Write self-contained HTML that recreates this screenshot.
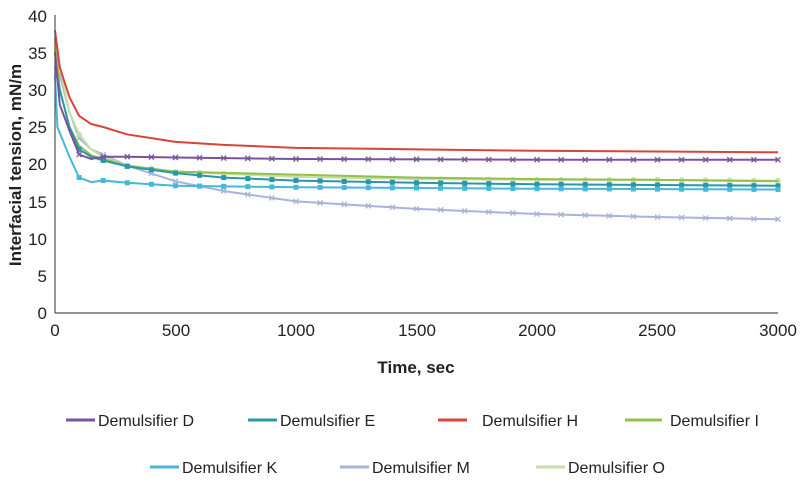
<!DOCTYPE html><html><head><style>body{margin:0;background:#fff}svg{display:block;font-family:"Liberation Sans",Arial,sans-serif}</style></head><body>
<svg id="s" width="800" height="491" viewBox="0 0 800 491">
<g id="c" fill="none" stroke-width="2"></g>
<g stroke="#555" stroke-width="1.2"><line x1="55" y1="15" x2="55" y2="313"/><line x1="55" y1="313" x2="778" y2="313"/></g>
<g font-size="17" fill="#222" text-anchor="end">
<text x="47" y="319">0</text><text x="47" y="282">5</text><text x="47" y="245">10</text><text x="47" y="208">15</text><text x="47" y="170">20</text><text x="47" y="133">25</text><text x="47" y="96">30</text><text x="47" y="59">35</text><text x="47" y="22">40</text></g>
<g font-size="17" fill="#222" text-anchor="middle">
<text x="55" y="336">0</text><text x="176" y="336">500</text><text x="296" y="336">1000</text><text x="417" y="336">1500</text><text x="537" y="336">2000</text><text x="657" y="336">2500</text><text x="778" y="336">3000</text></g>
<text x="416" y="373" font-size="17" font-weight="bold" text-anchor="middle" fill="#222">Time, sec</text>
<text transform="translate(21,165) rotate(-90)" font-size="17" font-weight="bold" text-anchor="middle" fill="#222">Interfacial tension, mN/m</text>
<g font-size="16" fill="#222" stroke-width="3">
<line x1="66" y1="420" x2="95" y2="420" stroke="#7a52a0"/><text x="98" y="426">Demulsifier D</text>
<line x1="248" y1="420" x2="277" y2="420" stroke="#2a97a8"/><text x="280" y="426">Demulsifier E</text>
<line x1="438" y1="420" x2="467" y2="420" stroke="#d9443a"/><text x="482" y="426">Demulsifier H</text>
<line x1="625" y1="420" x2="662" y2="420" stroke="#93c04a"/><text x="670" y="426">Demulsifier I</text>
<line x1="150" y1="467" x2="179" y2="467" stroke="#46b8d9"/><text x="182" y="473">Demulsifier K</text>
<line x1="340" y1="467" x2="369" y2="467" stroke="#aab2dc"/><text x="372" y="473">Demulsifier M</text>
<line x1="536" y1="467" x2="565" y2="467" stroke="#c4dfa8"/><text x="568" y="473">Demulsifier O</text>
</g>
</svg>
<script>
var S=[
["#aab2dc","x",[[0,33],[20,32],[60,27],[100,23.5],[150,22],[200,21.3],[300,19.8],[500,17.7],[700,16.4],[1000,15],[1500,14],[2000,13.3],[2500,12.9],[3000,12.6]]],
["#c4dfa8","o",[[0,36],[20,33],[60,27],[100,24],[150,22],[200,21],[300,19.8],[500,19],[1000,18.3],[1500,18],[2000,17.9],[2500,17.9],[3000,17.8]]],
["#93c04a","",[[0,37],[20,30],[60,25],[100,22.5],[150,21.2],[200,20.7],[300,19.8],[500,19],[1000,18.6],[1500,18.2],[2000,18],[2500,17.9],[3000,17.7]]],
["#2a97a8","s",[[0,33],[20,30],[60,25],[100,22],[150,21],[200,20.5],[300,19.7],[500,18.8],[700,18.2],[1000,17.8],[1500,17.5],[2000,17.3],[2500,17.2],[3000,17.1]]],
["#46b8d9","s",[[0,32],[10,25],[60,21],[100,18.2],[150,17.6],[200,17.8],[300,17.5],[500,17.1],[1000,16.9],[2000,16.7],[3000,16.6]]],
["#7a52a0","x",[[0,35],[20,28],[60,24.5],[100,21.3],[150,20.7],[200,21],[300,21],[500,20.9],[1000,20.7],[2000,20.6],[3000,20.6]]],
["#d9443a","",[[0,38],[20,33],[60,29],[100,26.5],[150,25.4],[200,25],[300,24],[400,23.5],[500,23],[700,22.6],[1000,22.2],[1500,22],[2000,21.8],[2500,21.7],[3000,21.6]]]];
var g=document.getElementById('c'),ns="http://www.w3.org/2000/svg";
function X(t){return 55+t*0.241}function Y(v){return 313-v*7.44}
function I(p,t){for(var i=1;i<p.length;i++)if(t<=p[i][0]){var a=p[i-1],b=p[i];return a[1]+(b[1]-a[1])*(t-a[0])/(b[0]-a[0]);}return p[p.length-1][1];}
S.forEach(function(s){var pl=document.createElementNS(ns,"polyline");pl.setAttribute("points",s[2].map(function(q){return X(q[0])+","+Y(q[1])}).join(" "));pl.setAttribute("stroke",s[0]);g.appendChild(pl);
if(s[1])for(var t=100;t<=3000;t+=100){var x=X(t),y=Y(I(s[2],t)),e;
if(s[1]=="s"){e=document.createElementNS(ns,"rect");e.setAttribute("x",x-2.5);e.setAttribute("y",y-2.5);e.setAttribute("width",5);e.setAttribute("height",5);e.setAttribute("fill",s[0]);}
else if(s[1]=="o"){e=document.createElementNS(ns,"circle");e.setAttribute("cx",x);e.setAttribute("cy",y);e.setAttribute("r",2.8);e.setAttribute("fill",s[0]);}
else{e=document.createElementNS(ns,"path");e.setAttribute("d","M"+(x-2.5)+","+(y-2.5)+"l5,5m0,-5l-5,5");e.setAttribute("stroke",s[0]);e.setAttribute("stroke-width",1.3);}
g.appendChild(e);}});
</script>
</body></html>
